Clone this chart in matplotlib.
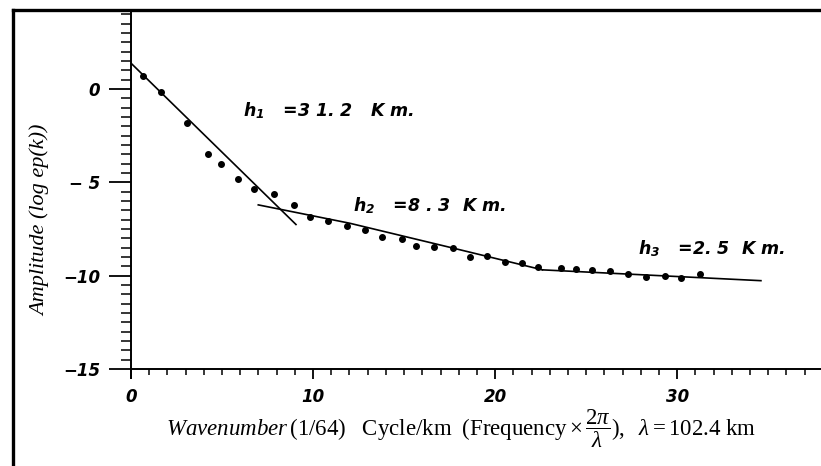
import numpy as np
import matplotlib
matplotlib.use("Agg")
import matplotlib.pyplot as plt
from matplotlib.lines import Line2D
from matplotlib.ticker import FixedLocator

wavenumber = [0.68, 1.65, 3.09, 4.24, 4.96, 5.85, 6.76, 7.88, 8.94, 9.81,
              10.80, 11.84, 12.84, 13.81, 14.91, 15.68, 16.63, 17.69, 18.61, 19.56,
              20.53, 21.50, 22.35, 23.64, 24.42, 25.32, 26.29, 27.29, 28.30, 29.31,
              30.22, 31.27]
amplitude = [0.70, -0.14, -1.80, -3.47, -4.02, -4.83, -5.37, -5.64, -6.24, -6.84,
             -7.09, -7.33, -7.55, -7.94, -8.05, -8.41, -8.48, -8.53, -8.98, -8.93,
             -9.25, -9.34, -9.55, -9.60, -9.66, -9.69, -9.73, -9.91, -10.05, -10.00,
             -10.11, -9.91]

# straight-line fits for the three depth estimates
seg1_x = [0.0, 9.06]
seg1_y = [1.38, -7.26]
seg2_x = [6.99, 12.0, 17.67, 22.6]
seg2_y = [-6.21, -7.19, -8.52, -9.69]
seg3_x = [22.6, 34.6]
seg3_y = [-9.69, -10.27]

depth_labels = [r"$\mathbfit{h}_{\mathbfit{1}}$   =3 1. 2   K m.",
                r"$\mathbfit{h}_{\mathbfit{2}}$   =8 . 3  K m.",
                r"$\mathbfit{h}_{\mathbfit{3}}$   =2. 5  K m."]

y_major = [0, -5, -10, -15]
y_major_labels = ["0", "\u2212 5", "\u221210", "\u221215"]
x_major = [0, 10, 20, 30]
x_major_labels = ["0", "10", "20", "30"]

plt.rcParams["mathtext.fontset"] = "custom"
plt.rcParams["mathtext.rm"] = "Liberation Serif"
plt.rcParams["mathtext.it"] = "Liberation Serif:italic"
plt.rcParams["mathtext.bfit"] = "DejaVu Sans:italic:bold"

fig = plt.figure(figsize=(8.21, 4.66), dpi=100)
ax = fig.add_axes([0.1596, 0.1882, 0.8404, 0.7871])

ax.plot(wavenumber, amplitude, "o", color="black", ms=4, zorder=3)
for sx, sy in [(seg1_x, seg1_y), (seg2_x, seg2_y), (seg3_x, seg3_y)]:
    ax.plot(sx, sy, color="black", lw=1.2)

ax.set_xlim(0, 37.9)
ax.set_ylim(-15.5, 4.15)
ax.spines["bottom"].set_position(("data", -15))
ax.spines["top"].set_visible(False)
ax.spines["right"].set_visible(False)
for s in ("left", "bottom"):
    ax.spines[s].set_linewidth(1.4)

ax.yaxis.set_major_locator(FixedLocator(y_major))
ax.yaxis.set_minor_locator(FixedLocator(np.arange(-15, 4.01, 0.5)))
ax.xaxis.set_major_locator(FixedLocator(x_major))
ax.xaxis.set_minor_locator(FixedLocator(np.arange(1, 38, 1)))
tick_font = dict(family="DejaVu Sans", weight="bold", style="italic", size=12)
ax.set_yticklabels(y_major_labels, fontdict=tick_font)
ax.set_xticklabels(x_major_labels, fontdict=tick_font)
ax.tick_params(axis="y", which="major", length=16, width=1.3, pad=6)
ax.tick_params(axis="y", which="minor", length=7, width=1.1)
ax.tick_params(axis="x", which="major", length=7, width=1.3, pad=7)
ax.tick_params(axis="x", which="minor", length=4.5, width=1.1)

# depth annotations
label_font = dict(family="DejaVu Sans", weight="bold", style="italic", fontsize=12.5)
ax.text(6.15, -1.5, depth_labels[0], **label_font)
ax.text(12.18, -6.59, depth_labels[1], **label_font)
ax.text(27.83, -8.89, depth_labels[2], **label_font)

fig.text(40 / 821, 1 - 220 / 466, "Amplitude (log ep(k))", rotation=90,
         family="Liberation Serif", style="italic", fontsize=16,
         ha="center", va="center")
fig.text(461 / 821, 1 - 436 / 466,
         r"$\mathit{Wavenumber}\,\mathrm{(1/64)}\ \ \ \mathrm{Cycle/km}\ \ "
         r"\mathrm{(Frequency}\times\dfrac{2\pi}{\lambda}\mathrm{),}\ \ "
         r"\lambda = \mathrm{102.4\ km}$",
         fontsize=16.5, ha="center", va="baseline")

# black frame on the left and top edges
fig.add_artist(Line2D([0.0164, 0.0164], [0, 0.9796], transform=fig.transFigure,
                      color="black", lw=2.4))
fig.add_artist(Line2D([0.0164, 1.0], [0.9796, 0.9796], transform=fig.transFigure,
                      color="black", lw=2.4))

fig.savefig("out.png", dpi=100)
